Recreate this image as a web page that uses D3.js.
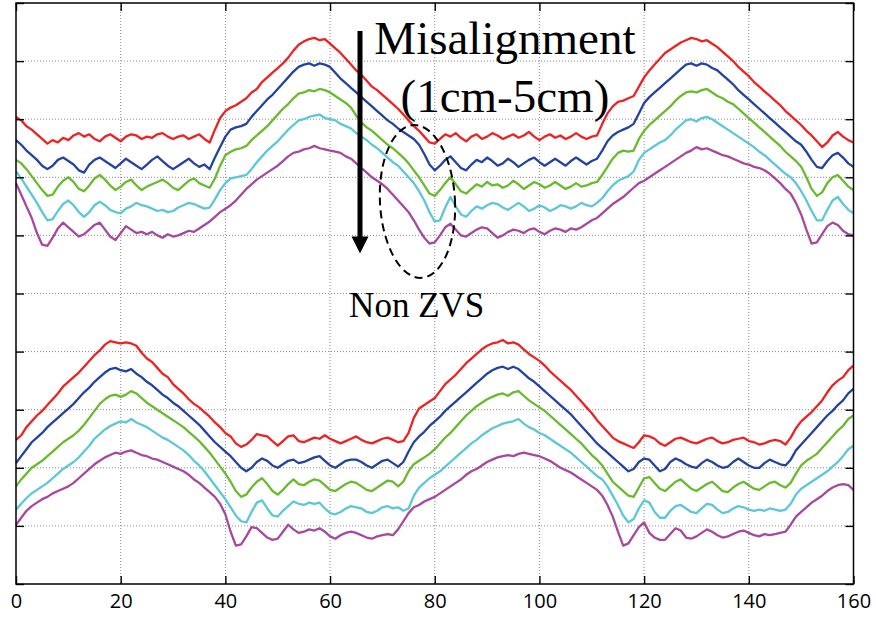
<!DOCTYPE html>
<html>
<head>
<meta charset="utf-8">
<script src="https://cdn.jsdelivr.net/npm/d3@7"></script>
<style>
  html, body { margin: 0; padding: 0; background: #fff; }
  svg { display: block; }
</style>
</head>
<body>
<svg id="chart" width="876" height="617"></svg>
<script>
// Sample index runs 0..160 (one sample per unit)
const xTicks = [0, 20, 40, 60, 80, 100, 120, 140, 160];
const yTicks = [0, 1, 2, 3, 4, 5, 6, 7, 8, 9, 10];

// Upper group of traces (misalignment 1cm .. 5cm)
const upperRed = [8.04,7.98,7.88,7.82,7.74,7.66,7.58,7.64,7.6,7.68,7.64,7.72,7.76,7.7,7.74,7.66,7.62,7.7,7.74,7.68,7.62,7.7,7.74,7.72,7.66,7.7,7.68,7.74,7.76,7.7,7.66,7.7,7.72,7.66,7.7,7.74,7.66,7.6,7.82,8.02,8.14,8.2,8.24,8.3,8.36,8.46,8.52,8.64,8.72,8.8,8.88,8.96,9.06,9.18,9.28,9.34,9.38,9.4,9.36,9.38,9.3,9.22,9.14,9.04,8.94,8.84,8.76,8.66,8.56,8.5,8.42,8.34,8.26,8.18,8.08,7.98,7.88,7.8,7.7,7.6,7.58,7.66,7.74,7.7,7.76,7.68,7.62,7.7,7.74,7.66,7.7,7.76,7.72,7.66,7.7,7.74,7.68,7.72,7.78,7.7,7.64,7.7,7.74,7.68,7.72,7.66,7.7,7.76,7.7,7.66,7.7,7.72,7.92,8.1,8.22,8.3,8.32,8.36,8.4,8.56,8.72,8.84,8.94,9.04,9.14,9.2,9.26,9.32,9.36,9.4,9.38,9.34,9.36,9.3,9.24,9.16,9.08,9.0,8.9,8.82,8.74,8.64,8.56,8.48,8.4,8.32,8.24,8.14,8.06,7.98,7.9,7.8,7.72,7.62,7.52,7.6,7.72,7.78,7.7,7.64,7.6];
const upperBlue = [7.64,7.56,7.46,7.38,7.3,7.2,7.14,7.2,7.3,7.34,7.28,7.22,7.12,7.08,7.22,7.3,7.34,7.28,7.22,7.16,7.24,7.32,7.26,7.2,7.14,7.22,7.3,7.36,7.28,7.2,7.14,7.2,7.26,7.32,7.24,7.18,7.22,7.14,7.34,7.52,7.7,7.82,7.86,7.88,7.92,8.04,8.14,8.24,8.34,8.42,8.52,8.62,8.72,8.82,8.9,8.94,8.96,8.92,8.96,8.94,8.9,8.8,8.7,8.62,8.54,8.46,8.38,8.3,8.22,8.14,8.06,7.98,7.92,7.84,7.78,7.72,7.66,7.56,7.4,7.22,7.12,7.2,7.3,7.36,7.26,7.16,7.12,7.22,7.3,7.26,7.34,7.28,7.2,7.24,7.32,7.26,7.18,7.24,7.3,7.34,7.26,7.2,7.26,7.32,7.26,7.2,7.28,7.34,7.28,7.22,7.28,7.32,7.46,7.62,7.72,7.78,7.82,7.86,7.92,8.1,8.28,8.38,8.46,8.54,8.62,8.7,8.78,8.86,8.94,8.96,8.92,8.96,8.94,8.88,8.84,8.76,8.68,8.6,8.5,8.42,8.34,8.26,8.18,8.1,8.02,7.94,7.86,7.78,7.7,7.62,7.56,7.44,7.3,7.18,7.16,7.28,7.38,7.42,7.34,7.24,7.18];
const upperGreen = [7.3,7.24,7.14,7.02,6.9,6.78,6.68,6.7,6.84,6.94,7.0,6.92,6.8,6.76,6.86,6.98,7.04,6.96,6.86,6.78,6.84,6.92,6.96,6.86,6.78,6.84,6.88,6.92,6.96,6.9,6.82,6.78,6.86,6.94,6.98,6.9,6.86,6.82,6.98,7.2,7.38,7.44,7.48,7.5,7.54,7.64,7.72,7.8,7.88,7.98,8.08,8.18,8.26,8.36,8.44,8.46,8.5,8.48,8.52,8.5,8.46,8.4,8.34,8.28,8.2,8.06,7.94,7.86,7.8,7.72,7.64,7.56,7.5,7.42,7.34,7.24,7.12,7.0,6.86,6.72,6.68,6.78,6.9,7.0,6.88,6.76,6.72,6.8,6.88,6.84,6.92,6.86,6.88,6.82,6.86,6.94,6.88,6.8,6.86,6.92,6.88,6.82,6.86,6.92,6.86,6.8,6.84,6.9,6.84,6.86,6.9,6.92,7.04,7.18,7.32,7.42,7.46,7.44,7.46,7.66,7.8,7.9,7.98,8.06,8.14,8.22,8.32,8.4,8.46,8.48,8.46,8.5,8.52,8.46,8.4,8.36,8.3,8.26,8.18,8.1,8.02,7.94,7.86,7.78,7.7,7.62,7.54,7.44,7.36,7.28,7.18,7.0,6.8,6.68,6.74,6.9,7.0,7.04,6.94,6.84,6.78];
const upperCyan = [7.1,6.98,6.84,6.7,6.56,6.4,6.26,6.28,6.42,6.54,6.6,6.52,6.4,6.32,6.4,6.52,6.58,6.52,6.44,6.4,6.38,6.46,6.5,6.56,6.52,6.5,6.46,6.42,6.44,6.4,6.42,6.48,6.52,6.56,6.54,6.5,6.46,6.48,6.62,6.78,6.9,6.98,7.0,7.02,7.04,7.14,7.26,7.36,7.46,7.54,7.62,7.72,7.82,7.9,7.98,8.0,8.04,8.06,8.08,8.02,8.0,7.98,7.92,7.88,7.84,7.76,7.7,7.64,7.56,7.5,7.42,7.34,7.26,7.2,7.1,7.0,6.9,6.76,6.6,6.4,6.24,6.26,6.48,6.66,6.5,6.36,6.32,6.42,6.5,6.46,6.52,6.56,6.54,6.48,6.44,6.5,6.56,6.5,6.42,6.46,6.52,6.48,6.42,6.46,6.52,6.5,6.46,6.5,6.56,6.52,6.5,6.56,6.64,6.76,6.86,6.94,6.98,7.02,7.1,7.3,7.42,7.48,7.54,7.6,7.64,7.72,7.82,7.9,7.98,8.0,7.96,8.02,8.04,8.0,7.94,7.88,7.82,7.76,7.7,7.64,7.58,7.52,7.44,7.38,7.3,7.22,7.14,7.06,7.0,6.9,6.76,6.6,6.42,6.26,6.26,6.44,6.6,6.66,6.54,6.44,6.38];
const upperMagenta = [6.9,6.7,6.5,6.3,6.04,5.84,5.82,5.96,6.12,6.22,6.14,6.06,5.98,6.02,6.1,6.18,6.22,6.1,5.98,5.92,6.04,6.16,6.1,6.04,6.06,6.02,6.06,6.0,5.96,6.02,5.98,6.0,6.04,6.08,6.06,6.12,6.18,6.24,6.32,6.4,6.46,6.52,6.6,6.7,6.8,6.88,6.96,7.02,7.08,7.14,7.2,7.28,7.36,7.42,7.44,7.48,7.5,7.54,7.5,7.48,7.46,7.44,7.42,7.36,7.32,7.24,7.16,7.08,7.0,6.94,6.88,6.8,6.7,6.6,6.5,6.4,6.26,6.1,5.96,5.86,5.88,6.0,6.14,6.2,6.1,6.0,5.98,6.04,6.1,6.14,6.12,6.04,5.96,6.0,6.06,6.1,6.08,6.04,6.1,6.12,6.06,6.02,6.08,6.12,6.1,6.06,6.12,6.1,6.14,6.2,6.26,6.3,6.38,6.46,6.54,6.6,6.66,6.74,6.82,6.9,6.94,7.0,7.06,7.12,7.18,7.24,7.3,7.36,7.42,7.46,7.52,7.48,7.5,7.46,7.42,7.38,7.36,7.32,7.28,7.24,7.22,7.18,7.16,7.12,7.06,6.98,6.9,6.8,6.72,6.56,6.36,6.1,5.86,5.88,6.02,6.16,6.22,6.18,6.08,6.02,6.0];

// Lower group of traces
const lowerRed = [2.48,2.56,2.7,2.8,2.9,2.98,3.08,3.18,3.28,3.4,3.48,3.56,3.64,3.74,3.84,3.94,4.02,4.12,4.18,4.16,4.14,4.16,4.14,4.1,3.98,3.88,3.82,3.72,3.62,3.56,3.44,3.36,3.28,3.18,3.1,3.04,2.96,2.88,2.78,2.7,2.6,2.54,2.42,2.36,2.4,2.48,2.58,2.56,2.54,2.46,2.38,2.46,2.54,2.56,2.46,2.44,2.48,2.52,2.5,2.56,2.5,2.46,2.42,2.46,2.5,2.54,2.48,2.44,2.42,2.46,2.5,2.52,2.48,2.44,2.46,2.6,2.86,3.02,3.08,3.14,3.2,3.32,3.44,3.52,3.6,3.7,3.8,3.88,3.96,4.04,4.1,4.14,4.16,4.2,4.14,4.16,4.12,4.04,3.96,3.9,3.84,3.76,3.66,3.58,3.5,3.42,3.34,3.24,3.14,3.04,2.94,2.82,2.72,2.62,2.52,2.46,2.42,2.38,2.34,2.44,2.56,2.54,2.5,2.42,2.38,2.44,2.5,2.52,2.48,2.44,2.42,2.46,2.5,2.52,2.46,2.42,2.44,2.48,2.5,2.52,2.46,2.44,2.4,2.42,2.46,2.48,2.46,2.4,2.52,2.68,2.8,2.88,2.96,3.06,3.16,3.3,3.42,3.5,3.56,3.68,3.76];
const lowerBlue = [2.08,2.2,2.32,2.44,2.52,2.6,2.7,2.78,2.86,2.94,3.02,3.1,3.2,3.3,3.38,3.48,3.56,3.64,3.7,3.72,3.68,3.66,3.7,3.62,3.56,3.48,3.42,3.34,3.26,3.2,3.12,3.06,2.98,2.9,2.82,2.74,2.64,2.54,2.44,2.36,2.28,2.2,2.1,2.0,1.94,2.0,2.1,2.16,2.12,2.04,2.0,2.06,2.12,2.14,2.08,2.1,2.14,2.18,2.2,2.12,2.04,2.0,2.06,2.12,2.14,2.14,2.1,2.04,2.0,2.06,2.12,2.14,2.08,2.02,2.1,2.28,2.44,2.54,2.62,2.72,2.8,2.88,2.98,3.06,3.14,3.22,3.3,3.38,3.46,3.54,3.62,3.68,3.72,3.74,3.7,3.74,3.7,3.62,3.54,3.48,3.4,3.32,3.24,3.16,3.08,3.0,2.92,2.82,2.72,2.62,2.52,2.42,2.34,2.26,2.18,2.1,2.02,1.94,1.98,2.1,2.16,2.14,2.04,1.94,1.98,2.1,2.16,2.12,2.06,2.02,2.0,2.08,2.14,2.1,2.04,2.0,2.02,2.1,2.16,2.1,2.04,2.0,2.0,2.08,2.14,2.1,2.06,2.04,2.14,2.3,2.4,2.5,2.6,2.7,2.8,2.9,2.98,3.08,3.16,3.28,3.36];
const lowerGreen = [1.68,1.8,1.9,2.0,2.06,2.12,2.2,2.28,2.36,2.44,2.5,2.56,2.64,2.74,2.86,2.98,3.1,3.18,3.24,3.26,3.22,3.26,3.32,3.28,3.2,3.12,3.06,3.0,2.94,2.88,2.82,2.76,2.7,2.62,2.54,2.46,2.36,2.26,2.14,2.02,1.9,1.76,1.6,1.5,1.54,1.66,1.76,1.82,1.72,1.6,1.54,1.62,1.72,1.8,1.72,1.7,1.76,1.8,1.78,1.7,1.62,1.6,1.66,1.72,1.76,1.74,1.68,1.62,1.6,1.66,1.72,1.78,1.76,1.68,1.76,1.94,2.06,2.12,2.18,2.24,2.32,2.42,2.52,2.6,2.7,2.8,2.9,2.98,3.06,3.12,3.18,3.22,3.26,3.28,3.24,3.3,3.32,3.24,3.16,3.1,3.04,2.98,2.9,2.82,2.74,2.66,2.58,2.5,2.42,2.32,2.22,2.14,2.04,1.9,1.76,1.68,1.6,1.52,1.5,1.66,1.82,1.84,1.74,1.64,1.6,1.68,1.76,1.8,1.72,1.64,1.6,1.66,1.72,1.76,1.68,1.6,1.58,1.66,1.72,1.76,1.7,1.64,1.62,1.68,1.74,1.76,1.7,1.66,1.74,1.9,2.04,2.12,2.18,2.24,2.34,2.44,2.54,2.64,2.72,2.84,2.9];
const lowerCyan = [1.28,1.38,1.48,1.56,1.62,1.68,1.74,1.82,1.9,1.98,2.04,2.1,2.18,2.28,2.38,2.5,2.58,2.66,2.72,2.76,2.8,2.78,2.84,2.78,2.74,2.7,2.64,2.58,2.52,2.48,2.42,2.36,2.3,2.22,2.12,2.04,1.94,1.82,1.7,1.58,1.46,1.32,1.18,1.08,1.06,1.24,1.4,1.44,1.3,1.18,1.16,1.26,1.34,1.42,1.38,1.36,1.4,1.38,1.4,1.3,1.22,1.2,1.24,1.3,1.34,1.32,1.3,1.24,1.22,1.26,1.32,1.34,1.3,1.32,1.26,1.3,1.52,1.66,1.74,1.82,1.88,1.94,2.02,2.1,2.18,2.26,2.34,2.42,2.48,2.56,2.62,2.68,2.72,2.76,2.78,2.8,2.84,2.76,2.7,2.66,2.6,2.56,2.5,2.44,2.38,2.32,2.26,2.18,2.1,2.02,1.94,1.86,1.8,1.68,1.52,1.36,1.18,1.06,1.12,1.3,1.44,1.4,1.24,1.14,1.14,1.26,1.34,1.36,1.3,1.24,1.22,1.3,1.38,1.36,1.28,1.22,1.24,1.3,1.34,1.32,1.28,1.26,1.28,1.26,1.3,1.28,1.26,1.28,1.38,1.54,1.64,1.7,1.76,1.82,1.88,1.94,2.02,2.1,2.2,2.32,2.38];
const lowerMagenta = [1.02,1.14,1.26,1.34,1.4,1.46,1.5,1.56,1.6,1.64,1.68,1.74,1.82,1.9,1.98,2.06,2.12,2.18,2.22,2.26,2.24,2.28,2.3,2.26,2.22,2.2,2.16,2.14,2.1,2.06,2.02,1.98,1.94,1.88,1.8,1.74,1.66,1.58,1.5,1.38,1.2,0.9,0.66,0.68,0.82,0.98,0.96,0.88,0.8,0.76,0.78,0.9,1.02,0.94,0.88,0.9,0.94,0.92,0.96,0.9,0.82,0.78,0.84,0.88,0.9,0.88,0.84,0.8,0.78,0.82,0.84,0.86,0.84,0.94,1.08,1.22,1.32,1.36,1.42,1.46,1.5,1.56,1.62,1.68,1.74,1.8,1.88,1.94,1.98,2.04,2.1,2.14,2.18,2.2,2.22,2.2,2.24,2.26,2.24,2.22,2.2,2.16,2.12,2.06,2.0,1.96,1.92,1.86,1.8,1.74,1.68,1.62,1.52,1.36,1.16,0.9,0.66,0.7,0.84,0.98,1.06,0.88,0.8,0.76,0.76,0.86,0.96,0.92,0.8,0.78,0.82,0.88,0.94,0.9,0.84,0.8,0.82,0.86,0.9,0.92,0.88,0.84,0.82,0.86,0.84,0.86,0.88,0.9,1.02,1.16,1.24,1.32,1.4,1.46,1.52,1.6,1.66,1.7,1.72,1.7,1.62];

const seriesColors = ["#ee2222", "#2243a0", "#68bb2c", "#5cc7d7", "#a6489f"];
const upperSeries = [upperRed, upperBlue, upperGreen, upperCyan, upperMagenta];
const lowerSeries = [lowerRed, lowerBlue, lowerGreen, lowerCyan, lowerMagenta];

const svg = d3.select("#chart");
const plot = { left: 16, right: 853.5, top: 3, bottom: 584 };

const x = d3.scaleLinear().domain([0, 160]).range([plot.left, plot.right]);
const y = d3.scaleLinear().domain([0, 10]).range([plot.bottom, plot.top]);

// dotted grid
const grid = svg.append("g").attr("stroke", "#8a8a8a").attr("stroke-width", 1)
  .attr("stroke-dasharray", "1,2");
grid.selectAll("line.gx").data(xTicks.slice(1, -1)).join("line")
  .attr("x1", d => x(d)).attr("x2", d => x(d))
  .attr("y1", plot.top).attr("y2", plot.bottom);
grid.selectAll("line.gy").data(yTicks.slice(1, -1)).join("line")
  .attr("y1", d => y(d)).attr("y2", d => y(d))
  .attr("x1", plot.left).attr("x2", plot.right);

// traces
const line = d3.line().x((d, i) => x(i)).y(d => y(d));
const traces = svg.append("g").attr("fill", "none").attr("stroke-width", 2.3)
  .attr("stroke-linejoin", "round");
[upperSeries, lowerSeries].forEach(group => {
  group.forEach((vals, k) => {
    traces.append("path").datum(vals)
      .attr("stroke", seriesColors[k])
      .attr("d", line);
  });
});

// axes with inward ticks on all four sides
const tickLen = 8;
function styleAxis(g) {
  g.select(".domain").remove();
  g.selectAll(".tick line").attr("stroke", "#000").attr("stroke-width", 1.4);
}
svg.append("g").attr("transform", `translate(0,${plot.bottom})`)
  .call(d3.axisBottom(x).tickValues(xTicks).tickSize(-tickLen).tickPadding(10))
  .call(styleAxis)
  .call(g => g.selectAll(".tick text")
    .attr("font-family", "'Open Sans', 'Noto Sans', sans-serif")
    .attr("font-size", 20).attr("fill", "#000"));
svg.append("g").attr("transform", `translate(0,${plot.top})`)
  .call(d3.axisTop(x).tickValues(xTicks).tickSize(-tickLen).tickFormat(""))
  .call(styleAxis);
svg.append("g").attr("transform", `translate(${plot.left},0)`)
  .call(d3.axisLeft(y).tickValues(yTicks).tickSize(-tickLen).tickFormat(""))
  .call(styleAxis);
svg.append("g").attr("transform", `translate(${plot.right},0)`)
  .call(d3.axisRight(y).tickValues(yTicks).tickSize(-tickLen).tickFormat(""))
  .call(styleAxis);

// frame
svg.append("rect")
  .attr("x", plot.left).attr("y", plot.top)
  .attr("width", plot.right - plot.left).attr("height", plot.bottom - plot.top)
  .attr("fill", "none").attr("stroke", "#000").attr("stroke-width", 1.5);

// annotations
const ann = svg.append("g");
const serif = "'Liberation Serif', 'Times New Roman', serif";

// downward arrow: increasing misalignment
const ax = x(65.72);
ann.append("line")
  .attr("x1", ax).attr("x2", ax)
  .attr("y1", y(9.52)).attr("y2", y(5.96))
  .attr("stroke", "#000").attr("stroke-width", 5);
ann.append("path")
  .attr("d", `M${ax - 8.5},${y(5.98)} L${ax + 8.5},${y(5.98)} L${ax},${y(5.69)} Z`)
  .attr("fill", "#000");

ann.append("text")
  .attr("x", x(93.4)).attr("y", y(9.117))
  .attr("text-anchor", "middle")
  .attr("font-family", serif).attr("font-size", 47)
  .text("Misalignment");
ann.append("text")
  .attr("x", x(93.4)).attr("y", y(8.13))
  .attr("text-anchor", "middle")
  .attr("font-family", serif).attr("font-size", 47)
  .text("(1cm-5cm)");

// dashed ellipse around the non-ZVS dip
const ecx = x(76.7), ecy = y(6.584);
ann.append("ellipse")
  .attr("cx", ecx).attr("cy", ecy)
  .attr("rx", 37.5).attr("ry", 76.5)
  .attr("transform", `rotate(-3 ${ecx} ${ecy})`)
  .attr("fill", "none").attr("stroke", "#000").attr("stroke-width", 2)
  .attr("stroke-dasharray", "8,5");

ann.append("text")
  .attr("x", x(76.55)).attr("y", y(4.6))
  .attr("text-anchor", "middle")
  .attr("font-family", serif).attr("font-size", 35)
  .text("Non ZVS");
</script>
</body>
</html>
